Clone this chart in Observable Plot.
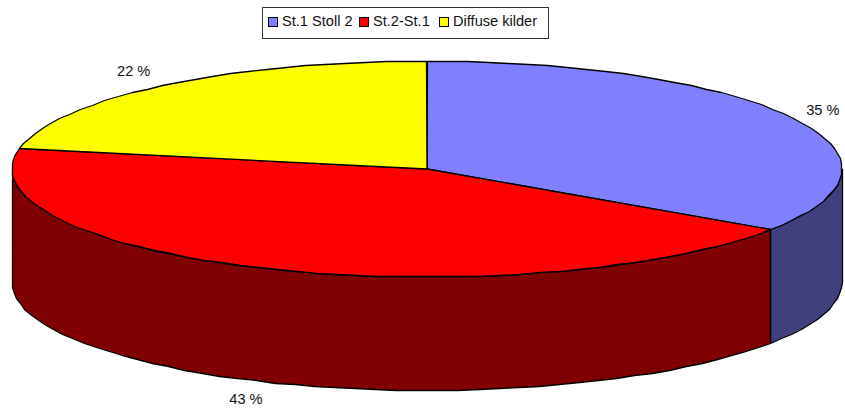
<!DOCTYPE html>
<html>
<head>
<meta charset="utf-8">
<script src="https://cdn.jsdelivr.net/npm/d3@7"></script>
<script src="https://cdn.jsdelivr.net/npm/@observablehq/plot@0.6"></script>
<style>
  html, body { margin: 0; padding: 0; background: #fff; }
  #wrap { position: relative; width: 845px; height: 408px; overflow: hidden; font-family: "Liberation Sans", Arial, sans-serif; }
  #legend { position: absolute; left: 262px; top: 7px; box-sizing: border-box; width: 287px; height: 32px;
            border: 1px solid #333; background: #fff; font-size: 14.6px; color: #111; }
  #legend i { position: absolute; top: 9px; width: 8px; height: 8px; border: 1px solid #000; }
  #legend span { position: absolute; top: 5px; line-height: 16px; white-space: nowrap; }
  svg { display: block; }
</style>
</head>
<body>
<div id="wrap"></div>
<script>
const categories = ["St.1 Stoll 2", "St.2-St.1", "Diffuse kilder"];
const shares = [34.5, 43.5, 22];
const labels = ["35 %", "43 %", "22 %"];
const topColors = ["#8080FF", "#FF0000", "#FFFF00"];
const sideColors = ["#40407F", "#7F0000", "#7F7F00"];

// Tilted-pie geometry (in chart units)
const cx = 426.5, cy = 168.5, rx = 415, ry = 108, depth = 113.5;
const px = (a) => cx + rx * Math.sin(a);
const py = (a, d = 0) => cy - ry * Math.cos(a) + d;
const TAU = 2 * Math.PI;

let acc = 0;
const slices = shares.map((v, i) => {
  const a0 = acc / 100 * TAU;
  acc += v;
  return { i, a0, a1: acc / 100 * TAU, mid: (a0 + acc / 100 * TAU) / 2 };
});

function arc(a0, a1, d = 0) {
  const n = Math.max(2, Math.ceil((a1 - a0) / 0.05));
  return d3.range(n + 1).map(k => {
    const a = a0 + (a1 - a0) * k / n;
    return { x: Math.round(px(a)), y: Math.round(py(a, d)) };
  });
}

const marks = [];
const face = (pts, fill) => marks.push(Plot.line([...pts, pts[0]], { x: "x", y: "y", fill, stroke: "#000", strokeWidth: 1.3, strokeLinejoin: "round" }));

// Visible outer walls: the front half of the rim, between angle PI/2 and 3PI/2
for (const s of slices) {
  const a0 = Math.max(s.a0, Math.PI / 2), a1 = Math.min(s.a1, 3 * Math.PI / 2);
  if (a1 > a0) face([...arc(a0, a1), ...arc(a0, a1, depth).reverse()], sideColors[s.i]);
}
// Top faces
for (const s of slices) {
  face([{ x: cx, y: cy }, ...arc(s.a0, s.a1)], topColors[s.i]);
}
// Percentage labels placed outward from each slice's middle
const labelNudge = [-4, -8, -5];
const labelData = slices.map(s => {
  const front = Math.cos(s.mid) < 0;
  return {
    x: cx + 1.09 * rx * Math.sin(s.mid) + labelNudge[s.i],
    y: cy - 1.17 * ry * Math.cos(s.mid) + (front ? depth : 0),
    text: labels[s.i]
  };
});
marks.push(Plot.text(labelData, { x: "x", y: "y", text: "text", fontSize: 14.6, fill: "#111", fontFamily: "Liberation Sans, Arial, sans-serif" }));

const chart = Plot.plot({
  width: 845, height: 408,
  margin: 0,
  x: { domain: [0, 845], range: [0, 845], axis: null },
  y: { domain: [0, 408], range: [0, 408], axis: null },
  marks
});
const wrap = document.getElementById("wrap");
wrap.appendChild(chart);

// Legend
const legend = document.createElement("div");
legend.id = "legend";
const swatchX = [4.5, 96, 176], textX = [19, 110, 190];
categories.forEach((c, i) => {
  const sw = document.createElement("i");
  sw.style.left = swatchX[i] + "px";
  sw.style.background = topColors[i];
  const t = document.createElement("span");
  t.style.left = textX[i] + "px";
  t.textContent = c;
  legend.append(sw, t);
});
wrap.appendChild(legend);
</script>
</body>
</html>
